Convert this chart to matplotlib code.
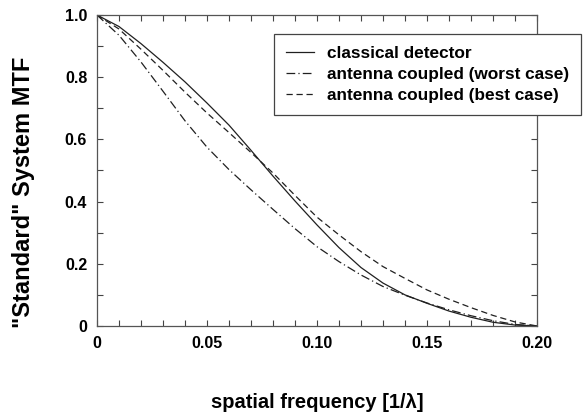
import matplotlib
matplotlib.use('Agg')
import matplotlib.pyplot as plt
from matplotlib.ticker import MultipleLocator, FixedLocator

# values
freq = [0.00, 0.01, 0.02, 0.03, 0.04, 0.05, 0.06, 0.07, 0.08, 0.09, 0.10,
        0.11, 0.12, 0.13, 0.14, 0.15, 0.16, 0.17, 0.18, 0.19, 0.20]
classical = [1.000, 0.963, 0.908, 0.848, 0.785, 0.717, 0.646, 0.565, 0.482, 0.402, 0.325,
             0.252, 0.188, 0.138, 0.100, 0.073, 0.048, 0.028, 0.012, 0.003, 0.000]
worst = [1.000, 0.935, 0.849, 0.755, 0.660, 0.575, 0.503, 0.438, 0.375, 0.313, 0.255,
         0.207, 0.164, 0.127, 0.099, 0.074, 0.052, 0.033, 0.017, 0.005, 0.000]
best = [1.000, 0.955, 0.890, 0.822, 0.752, 0.685, 0.622, 0.558, 0.492, 0.420, 0.350,
        0.293, 0.239, 0.191, 0.153, 0.116, 0.086, 0.059, 0.034, 0.013, 0.000]

labels = ['classical detector', 'antenna coupled (worst case)', 'antenna coupled (best case)']
xticks = [0, 0.05, 0.10, 0.15, 0.20]
xtick_labels = ['0', '0.05', '0.10', '0.15', '0.20']
yticks = [0, 0.2, 0.4, 0.6, 0.8, 1.0]
ytick_labels = ['0', '0.2', '0.4', '0.6', '0.8', '1.0']

plt.rcParams['font.family'] = ['Liberation Sans', 'DejaVu Sans']
plt.rcParams['font.weight'] = 'bold'

fig = plt.figure(figsize=(5.84, 4.13), dpi=100)
ax = fig.add_axes([0.166, 0.2107, 0.7535, 0.753])

ax.plot(freq, classical, color='#202020', lw=0.9, ls='-', label=labels[0])
ax.plot(freq, worst, color='#202020', lw=0.9, ls=(0, (7, 2.5, 1, 2.5)), label=labels[1])
ax.plot(freq, best, color='#202020', lw=0.9, ls=(0, (5, 3)), label=labels[2])

ax.set_xlim(0, 0.20)
ax.set_ylim(0, 1.0)
ax.xaxis.set_major_locator(FixedLocator(xticks))
ax.set_xticklabels(xtick_labels)
ax.yaxis.set_major_locator(FixedLocator(yticks))
ax.set_yticklabels(ytick_labels)
ax.xaxis.set_minor_locator(MultipleLocator(0.01))
ax.yaxis.set_minor_locator(MultipleLocator(0.1))
ax.tick_params(which='both', direction='in', top=True, right=True, width=0.8, color='#444444')
ax.tick_params(which='major', length=4, labelsize=11.5, pad=7)
ax.tick_params(which='minor', length=4)
for s in ax.spines.values():
    s.set_linewidth(0.9)
    s.set_color('#555555')

ax.set_xlabel('spatial frequency [1/\u03bb]', fontsize=14.5, fontweight='bold')
ax.xaxis.set_label_coords(0.5, -0.215)
ax.set_ylabel('"Standard" System MTF', fontsize=17, fontweight='bold')
ax.yaxis.set_label_coords(-0.14, 0.43)

leg = ax.legend(loc='upper left', bbox_to_anchor=(0.469, 0.918), bbox_transform=fig.transFigure,
                fontsize=12.4, frameon=True, fancybox=False, handlelength=1.6, handletextpad=0.75,
                labelspacing=0.33, borderpad=0.72, borderaxespad=0)
leg.get_frame().set_edgecolor('#444444')
leg.get_frame().set_linewidth(0.9)
leg.get_frame().set_alpha(1)

fig.savefig('out.png', dpi=100)
